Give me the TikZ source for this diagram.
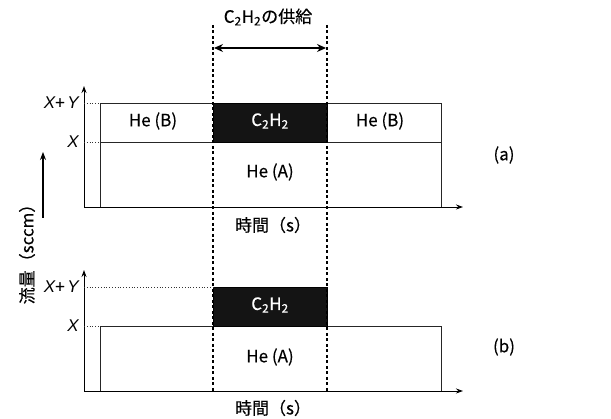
\documentclass[tikz,border=0pt]{standalone}
\usepackage{fontspec}
\setmainfont{Noto Sans CJK JP}[FakeBold=0.35]
\newfontfamily\varfont{Liberation Sans}
\usetikzlibrary{arrows.meta}
\newcommand{\qty}[1]{{\varfont\itshape #1}}
\begin{document}
\begin{tikzpicture}[x=1pt,y=-1pt,
  axis/.style={line width=0.9pt,-{Stealth[length=7pt,width=5pt]}},
  frame/.style={line width=0.8pt,draw=black!85},
  guide/.style={line width=0.8pt,dotted,draw=black!80},
  supply/.style={line width=1.1pt,dash pattern=on 3pt off 2.5pt},
  lbl/.style={font=\fontsize{17}{20}\selectfont,inner sep=0pt},
  gaslbl/.style={lbl},
  gasbox/.style={fill=black!92,draw=black},
]
\useasboundingbox (0,0) rectangle (611,419);

% ---------- panel (a) ----------
\coordinate (a0) at (84,207);
\coordinate (aytop) at (84,86);
\coordinate (axend) at (463,207);
\draw[axis] (a0) -- (aytop);
\draw[axis] (a0) -- (axend);
\draw[frame] (100,207) -- (100,103) -- (441,103) -- (441,207);
\draw[frame] (100,142) -- (441,142);
\fill[gasbox] (213,103) rectangle (327,142);
\draw[guide] (84,103) -- (100,103);
\draw[guide] (84,142) -- (100,142);
\node[lbl,anchor=east] (axy) at (79,103) {\qty{X}+\,\qty{Y}};
\node[lbl,anchor=east] (ax) at (79,142) {\qty{X}};
\node[gaslbl] (aheb1) at (153,121) {He (B)};
\node[gaslbl,text=white] (ac2h2) at (270,121) {C\textsubscript{2}H\textsubscript{2}};
\node[gaslbl] (aheb2) at (380,121) {He (B)};
\node[gaslbl] (ahea) at (270,172) {He (A)};
\node[lbl] (atag) at (504,155) {(a)};
\node[lbl] (atime) at (273,225) {時間（s）};

% ---------- panel (b) ----------
\coordinate (b0) at (84,391);
\coordinate (bytop) at (84,270);
\coordinate (bxend) at (463,391);
\draw[axis] (b0) -- (bytop);
\draw[axis] (b0) -- (bxend);
\draw[frame] (100,391) -- (100,326) -- (441,326) -- (441,391);
\fill[gasbox] (213,287) rectangle (327,326);
\draw[guide] (84,287) -- (213,287);
\draw[guide] (84,326) -- (100,326);
\node[lbl,anchor=east] (bxy) at (79,287) {\qty{X}+\,\qty{Y}};
\node[lbl,anchor=east] (bx) at (79,326) {\qty{X}};
\node[gaslbl,text=white] (bc2h2) at (270,305) {C\textsubscript{2}H\textsubscript{2}};
\node[gaslbl] (bhea) at (270,357) {He (A)};
\node[lbl] (btag) at (504,347) {(b)};
\node[lbl] (btime) at (273,408) {時間（s）};

% ---------- supply window ----------
\coordinate (s1t) at (213,25);
\coordinate (s1b) at (213,391);
\coordinate (s2t) at (327,25);
\coordinate (s2b) at (327,391);
\draw[supply] (s1t) -- (s1b);
\draw[supply] (s2t) -- (s2b);
\coordinate (arl) at (214,48);
\coordinate (arr) at (326,48);
\draw[line width=1.2pt,{Stealth[length=9pt,width=8pt]}-{Stealth[length=9pt,width=8pt]}] (arl) -- (arr);
\node[lbl] (supplylbl) at (268,17) {C\textsubscript{2}H\textsubscript{2}の供給};

% ---------- flow-rate label ----------
\coordinate (fa) at (43,218);
\coordinate (fb) at (43,152);
\draw[line width=1.1pt,-{Stealth[length=8pt,width=6pt]}] (fa) -- (fb);
\node[lbl,rotate=90] (flow) at (27,250) {流量（sccm）};
\end{tikzpicture}
\end{document}
